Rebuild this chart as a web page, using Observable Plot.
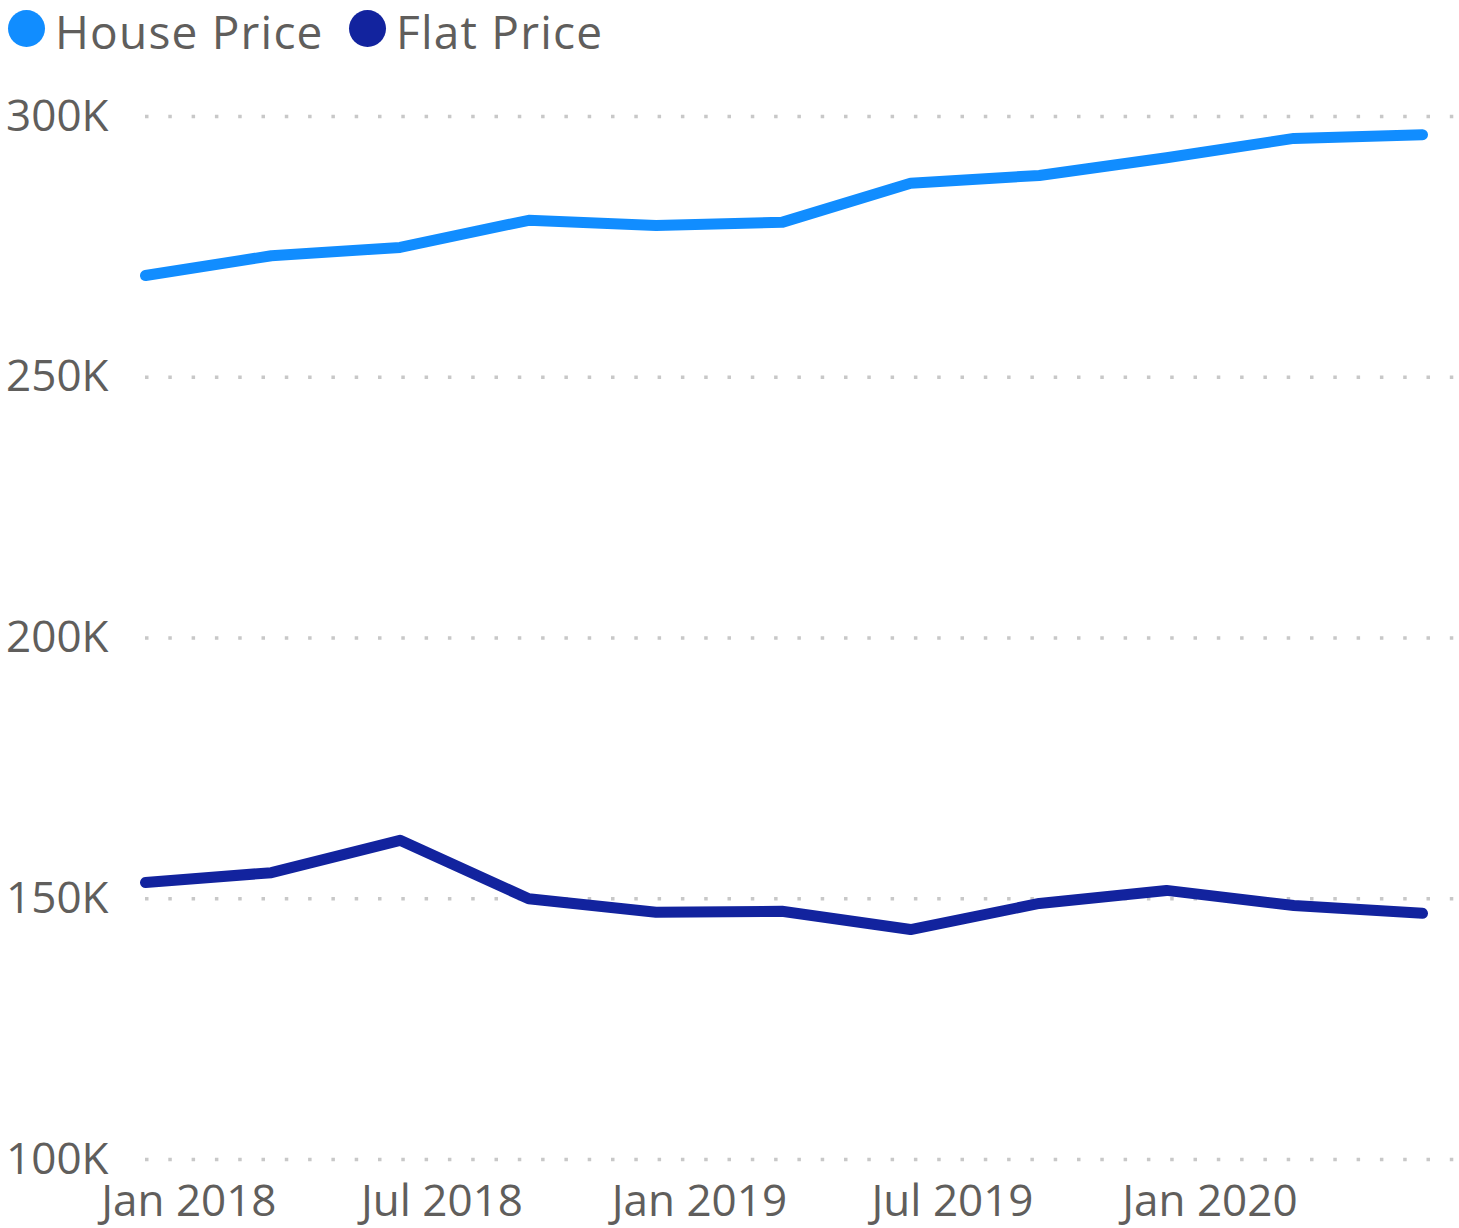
<!DOCTYPE html>
<html>
<head>
<meta charset="utf-8">
<script src="https://cdn.jsdelivr.net/npm/d3@7"></script>
<script src="https://cdn.jsdelivr.net/npm/@observablehq/plot@0.6"></script>
<style>
  html, body { margin: 0; padding: 0; background: #fff; }
  body { width: 1459px; height: 1228px; overflow: hidden; font-family: "Open Sans", sans-serif; }
  #legend { height: 60px; position: relative; }
  .item { position: absolute; top: 3px; height: 57px; line-height: 1.1; display: flex; align-items: center; color: #605E5C; font-size: 46px; letter-spacing: 1.2px; white-space: nowrap; }
  .dot { width: 37px; height: 37px; border-radius: 50%; margin-right: 10px; position: relative; top: -3px; }
  #chart svg { display: block; }
</style>
</head>
<body>
<div id="legend"></div>
<div id="chart"></div>
<script>
// Data (quarterly)
const periods = ["2017-12-01", "2018-03-01", "2018-06-01", "2018-09-01", "2018-12-01", "2019-03-01", "2019-06-01", "2019-09-01", "2019-12-01", "2020-03-01", "2020-06-01"];
const houseValues = [269500, 273300, 274900, 280100, 279100, 279700, 287200, 288700, 292100, 295800, 296500];
const flatValues  = [153100, 155000, 161200, 150000, 147400, 147600, 144100, 149100, 151600, 148700, 147200];
const seriesNames = ["House Price", "Flat Price"];
const seriesColors = ["#118DFF", "#12239E"];
const yTicks = [100000, 150000, 200000, 250000, 300000];
const xTicks = ["2018-01-01", "2018-07-01", "2019-01-01", "2019-07-01", "2020-01-01"];

const parse = d3.utcParse("%Y-%m-%d");
const rows = [];
periods.forEach((p, i) => {
  rows.push({date: parse(p), value: houseValues[i], series: seriesNames[0]});
  rows.push({date: parse(p), value: flatValues[i], series: seriesNames[1]});
});

// Legend
const legend = document.getElementById("legend");
const legendX = [8, 349];
seriesNames.forEach((name, i) => {
  const it = document.createElement("div");
  it.className = "item";
  it.style.left = legendX[i] + "px";
  const dot = document.createElement("div");
  dot.className = "dot";
  dot.style.background = seriesColors[i];
  it.appendChild(dot);
  it.appendChild(document.createTextNode(name));
  legend.appendChild(it);
});

const fmtMonth = d3.utcFormat("%b %Y");

const chart = Plot.plot({
  width: 1459,
  height: 1168,
  marginLeft: 145,
  marginRight: 37,
  marginTop: 56,
  marginBottom: 69,
  style: {fontFamily: "Open Sans, sans-serif", fontSize: "44px", color: "#605E5C", background: "#fff"},
  x: {type: "utc", domain: [parse(periods[0]), parse(periods[periods.length - 1])]},
  y: {domain: [100000, 300000]},
  color: {domain: seriesNames, range: seriesColors},
  marks: [
    Plot.ruleY(yTicks, {stroke: "#c8c8c8", strokeWidth: 3.5, strokeDasharray: "3.5 19.8", insetRight: -33}),
    Plot.axisY({ticks: yTicks, tickSize: 0, tickPadding: 37, tickFormat: d => d / 1000 + "K", label: null, fill: "#605E5C"}),
    Plot.axisX({ticks: xTicks.map(parse), tickSize: 0, tickPadding: 25, tickFormat: fmtMonth, label: null, fill: "#605E5C"}),
    Plot.lineY(rows, {x: "date", y: "value", z: "series", stroke: "series", strokeWidth: 11, strokeLinecap: "round", strokeLinejoin: "round"})
  ]
});
document.getElementById("chart").appendChild(chart);
</script>
</body>
</html>
